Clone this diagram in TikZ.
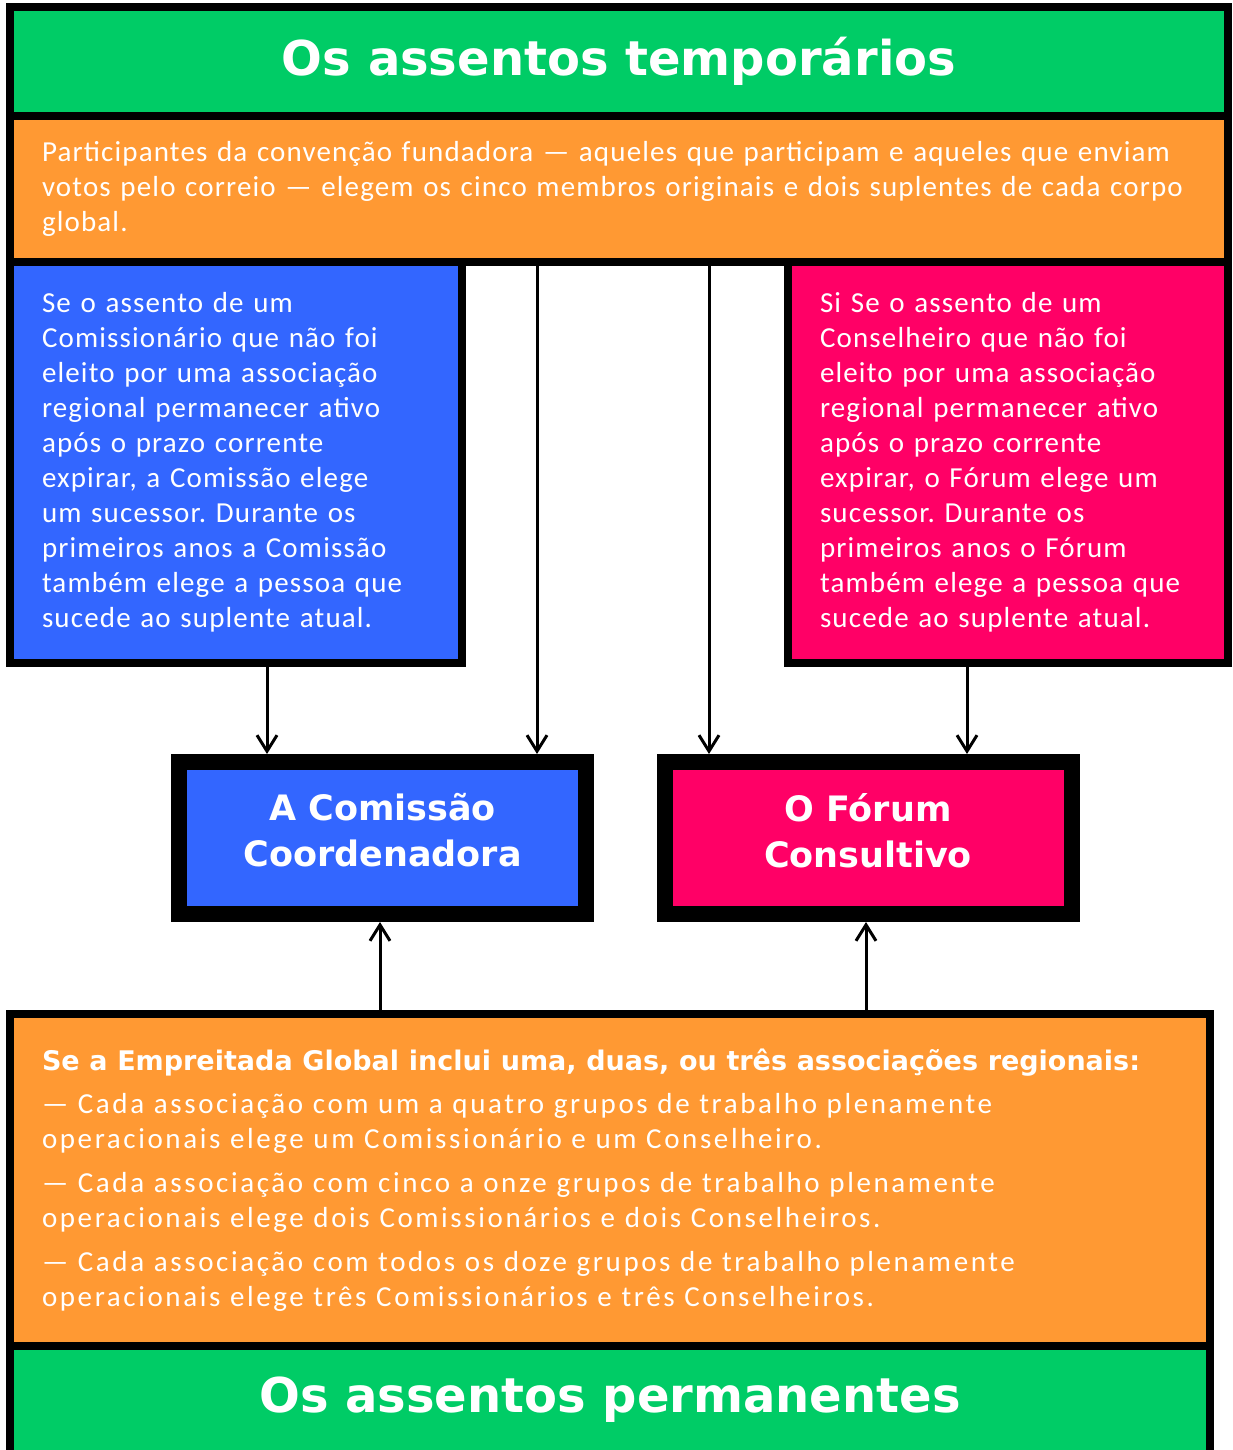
\documentclass[tikz,border=0pt]{standalone}
\usepackage{fontspec}
\setmainfont{Carlito}
\newfontfamily\bodyfont{Carlito}[LetterSpace=4.0]
\newfontfamily\widefont{Carlito}[LetterSpace=9.0]
\newfontfamily\headfont{DejaVu Sans}
\usetikzlibrary{arrows.meta}
\frenchspacing

\definecolor{seatgreen}{RGB}{0,204,102}
\definecolor{seatorange}{RGB}{255,153,51}
\definecolor{seatblue}{RGB}{51,102,255}
\definecolor{seatpink}{RGB}{255,0,102}

\tikzset{
  seatbox/.style={draw=black, line width=4pt, rectangle, inner xsep=16pt, inner ysep=0pt, text=white},
  titlebox/.style={seatbox, fill=seatgreen, minimum height=54.5pt,
    font=\headfont\bfseries\fontsize{24pt}{28pt}\selectfont},
  textbox/.style={seatbox, align=left, font=\bodyfont\fontsize{14.5pt}{17.5pt}\selectfont},
  bodybox/.style={seatbox, line width=8pt, align=center, minimum width=203.5pt, minimum height=76pt,
    text depth=8pt, font=\headfont\bfseries\fontsize{17.5pt}{23pt}\selectfont},
  arr/.style={line width=1.5pt, -{Straight Barb[length=8pt,width=10pt]}},
}

\begin{document}
\begin{tikzpicture}[x=0.5pt,y=-0.5pt]

\useasboundingbox (0,0) rectangle (1232,1450) ;
\clip (0,0) rectangle (1232,1450) ;
\fill [white] (0,0) rectangle (1232,1450) ;

%temporary seats
\node [titlebox, minimum width=609pt] (titleT) at (619,61.5) {Os assentos temporários} ;
\node [textbox, fill=seatorange, text width=577pt, minimum height=73pt] (partT) at (619,189)
  {Participantes da convenção fundadora — aqueles que participam e aqueles que enviam\\
   votos pelo correio — elegem os cinco membros originais e dois suplentes de cada corpo\\
   global.} ;

%vacancy boxes
\node [textbox, fill=seatblue, text width=194pt, minimum height=200.5pt] (comT) at (236,462.5)
  {Se o assento de um\\ Comissionário que não foi\\ eleito por uma associação\\
   regional permanecer ativo\\ após o prazo corrente\\ expirar, a Comissão elege\\
   um sucessor. Durante os\\ primeiros anos a Comissão\\ também elege a pessoa que\\
   sucede ao suplente atual.} ;
\node [textbox, fill=seatpink, text width=188pt, minimum height=200.5pt] (forT) at (1008,462.5)
  {Si Se o assento de um\\ Conselheiro que não foi\\ eleito por uma associação\\
   regional permanecer ativo\\ após o prazo corrente\\ expirar, o Fórum elege um\\
   sucessor. Durante os\\ primeiros anos o Fórum\\ também elege a pessoa que\\
   sucede ao suplente atual.} ;

%global bodies
\node [bodybox, fill=seatblue] (comm) at (382.5,838) {A Comissão\\Coordenadora} ;
\node [bodybox, fill=seatpink] (forum) at (868,838) {O Fórum\\Consultivo} ;

%permanent seats
\node [textbox, fill=seatorange, text width=568pt, minimum height=166pt] (regB) at (610,1180)
  {{\headfont\bfseries\fontsize{13.5pt}{17.5pt}\selectfont Se a Empreitada Global inclui uma, duas, ou três associações regionais:}\\[4pt]
   {\widefont — Cada associação com um a quatro grupos de trabalho plenamente}\\
   {\widefont operacionais elege um Comissionário e um Conselheiro.}\\[4.5pt]
   {\widefont — Cada associação com cinco a onze grupos de trabalho plenamente}\\
   {\widefont operacionais elege dois Comissionários e dois Conselheiros.}\\[4.5pt]
   {\widefont — Cada associação com todos os doze grupos de trabalho plenamente}\\
   {\widefont operacionais elege três Comissionários e três Conselheiros.}} ;
\node [titlebox, minimum width=600pt, minimum height=54pt] (titleB) at (610,1400) {Os assentos permanentes} ;

%arrows down
\draw [arr] (267,0 |- comT.south) -- (267,0 |- comm.north) ;
\draw [arr] (537,0 |- partT.south) -- (537,0 |- comm.north) ;
\draw [arr] (709,0 |- partT.south) -- (709,0 |- forum.north) ;
\draw [arr] (967,0 |- forT.south) -- (967,0 |- forum.north) ;

%arrows up
\draw [arr] (380,0 |- regB.north) -- (380,0 |- comm.south) ;
\draw [arr] (866,0 |- regB.north) -- (866,0 |- forum.south) ;

\end{tikzpicture}
\end{document}
